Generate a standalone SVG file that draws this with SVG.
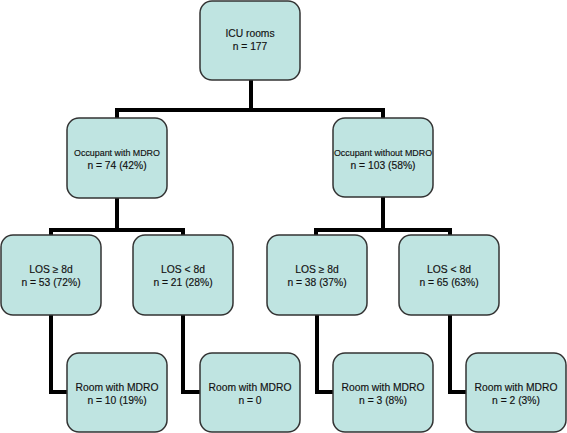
<svg xmlns="http://www.w3.org/2000/svg" width="567" height="433" viewBox="0 0 567 433">
<style>
.box{fill:#bfe4e1;stroke:#333;stroke-width:1.5}
.t{font-family:"Liberation Sans",Arial,sans-serif;font-size:10.3px;fill:#111;text-anchor:middle;stroke:#111;stroke-width:0.15}
.s{font-size:8.9px}
.c{fill:none;stroke:#000;stroke-width:4;stroke-linejoin:miter}
</style>
<g id="connectors">
<path class="c" d="M251 80V110M117 119V110H383V119"/>
<path class="c" d="M117 198V230M51 236V230H183V236"/>
<path class="c" d="M383 197V230M316 236V230H450V236"/>
<path class="c" d="M51 315V392H68"/>
<path class="c" d="M183 315V392H201"/>
<path class="c" d="M317 315V392H334"/>
<path class="c" d="M450 315V392H468"/>
</g>
<g id="n1"><rect class="box" x="200" y="1" width="100" height="79" rx="12"/><text class="t" x="250" y="37">ICU rooms</text><text class="t" x="250" y="50">n = 177</text></g>
<g id="n2"><rect class="box" x="67" y="118" width="100" height="80" rx="12"/><text class="t s" x="117" y="156">Occupant with MDRO</text><text class="t" x="117" y="169">n = 74 (42%)</text></g>
<g id="n3"><rect class="box" x="333" y="118" width="100" height="79" rx="12"/><text class="t s" x="383" y="156">Occupant without MDRO</text><text class="t" x="383" y="169">n = 103 (58%)</text></g>
<g id="n4"><rect class="box" x="1" y="235" width="100" height="80" rx="12"/><text class="t" x="51" y="273">LOS ≥ 8d</text><text class="t" x="51" y="286">n = 53 (72%)</text></g>
<g id="n5"><rect class="box" x="133" y="235" width="100" height="80" rx="12"/><text class="t" x="183" y="273">LOS &lt; 8d</text><text class="t" x="183" y="286">n = 21 (28%)</text></g>
<g id="n6"><rect class="box" x="267" y="235" width="100" height="80" rx="12"/><text class="t" x="317" y="273">LOS ≥ 8d</text><text class="t" x="317" y="286">n = 38 (37%)</text></g>
<g id="n7"><rect class="box" x="399" y="235" width="100" height="80" rx="12"/><text class="t" x="449" y="273">LOS &lt; 8d</text><text class="t" x="449" y="286">n = 65 (63%)</text></g>
<g id="n8"><rect class="box" x="67" y="353" width="100" height="79" rx="12"/><text class="t" x="117" y="391">Room with MDRO</text><text class="t" x="117" y="404">n = 10 (19%)</text></g>
<g id="n9"><rect class="box" x="200" y="353" width="100" height="79" rx="12"/><text class="t" x="250" y="391">Room with MDRO</text><text class="t" x="250" y="404">n = 0</text></g>
<g id="n10"><rect class="box" x="333" y="353" width="100" height="79" rx="12"/><text class="t" x="383" y="391">Room with MDRO</text><text class="t" x="383" y="404">n = 3 (8%)</text></g>
<g id="n11"><rect class="box" x="466" y="353" width="100" height="79" rx="12"/><text class="t" x="516" y="391">Room with MDRO</text><text class="t" x="516" y="404">n = 2 (3%)</text></g>
</svg>
